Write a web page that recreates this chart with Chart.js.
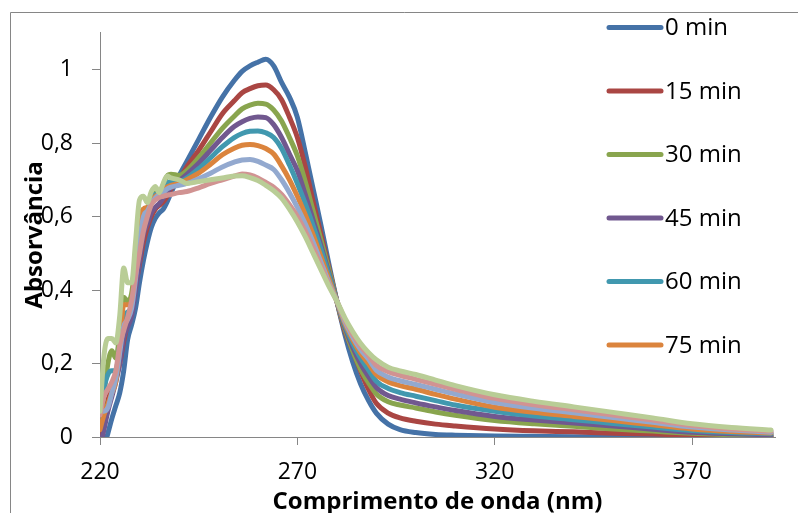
<!DOCTYPE html>
<html><head><meta charset="utf-8">
<script src="https://cdn.jsdelivr.net/npm/chart.js@4/dist/chart.umd.min.js"></script>
<style>html,body{margin:0;padding:0;background:#fff;}canvas{display:block}</style>
</head><body>
<canvas id="c" width="798" height="513"></canvas>
<script>
const wavelengths = [220,221,222,223,224,225,226,227,228,229,230,231,232,233,234,235,236,237,238,
  240,242,245,248,251,254,256,258,260,262,
  264,266,268,270,272,274,276,278,280,282,284,286,288,290,
  293,296,300,305,310,
  320,330,340,350,360,370,380,390];

const seriesLabels = ['0 min','15 min','30 min','45 min','60 min','75 min','90 min','105 min','120 min'];

const abs0 = [-0.06,-0.025,0.01,0.05,0.085,0.12,0.18,0.265,0.305,0.35,0.42,0.48,0.53,0.57,0.595,0.61,0.62,0.64,0.665,
  0.71,0.75,0.81,0.87,0.925,0.97,0.995,1.01,1.02,1.028,
  1.01,0.965,0.925,0.87,0.775,0.675,0.575,0.47,0.37,0.28,0.205,0.145,0.1,0.065,
  0.035,0.02,0.012,0.007,0.005,
  0.003,0.002,0.001,0.001,0.001,0.001,0,0];
const abs15 = [-0.02,0.04,0.1,0.13,0.16,0.2,0.26,0.31,0.35,0.41,0.47,0.53,0.57,0.6,0.62,0.63,0.64,0.655,0.675,
  0.70,0.735,0.78,0.83,0.88,0.915,0.937,0.948,0.956,0.958,
  0.945,0.918,0.87,0.815,0.735,0.64,0.55,0.46,0.37,0.29,0.235,0.18,0.13,0.092,
  0.065,0.052,0.043,0.035,0.03,
  0.022,0.017,0.014,0.01,0.008,0.005,0.004,0.002];
const abs30 = [0.03,0.12,0.2,0.235,0.215,0.28,0.38,0.37,0.39,0.48,0.59,0.62,0.62,0.65,0.665,0.665,0.685,0.71,0.715,
  0.712,0.725,0.76,0.80,0.84,0.873,0.893,0.903,0.908,0.906,
  0.89,0.86,0.815,0.765,0.695,0.615,0.535,0.455,0.37,0.295,0.235,0.185,0.148,0.117,
  0.096,0.087,0.079,0.068,0.059,
  0.045,0.036,0.029,0.022,0.016,0.01,0.006,0.004];
const abs45 = [-0.03,0.02,0.07,0.11,0.15,0.2,0.27,0.3,0.33,0.4,0.48,0.55,0.58,0.61,0.625,0.635,0.65,0.665,0.68,
  0.697,0.715,0.745,0.78,0.815,0.845,0.858,0.867,0.871,0.869,
  0.85,0.815,0.77,0.725,0.66,0.59,0.52,0.445,0.37,0.3,0.245,0.2,0.165,0.135,
  0.113,0.103,0.093,0.082,0.072,
  0.056,0.046,0.038,0.03,0.021,0.013,0.009,0.006];
const abs60 = [0.05,0.13,0.17,0.18,0.18,0.25,0.33,0.34,0.36,0.46,0.56,0.61,0.62,0.645,0.66,0.66,0.675,0.69,0.695,
  0.695,0.705,0.73,0.76,0.79,0.815,0.826,0.832,0.833,0.828,
  0.815,0.785,0.74,0.69,0.635,0.575,0.51,0.44,0.37,0.305,0.255,0.215,0.183,0.152,
  0.132,0.121,0.111,0.099,0.087,
  0.07,0.057,0.047,0.037,0.027,0.018,0.012,0.009];
const abs75 = [0.02,0.06,0.09,0.12,0.15,0.24,0.36,0.36,0.37,0.47,0.58,0.62,0.625,0.64,0.655,0.66,0.67,0.68,0.685,
  0.69,0.70,0.718,0.742,0.768,0.786,0.794,0.796,0.793,0.785,
  0.77,0.738,0.7,0.655,0.605,0.55,0.49,0.43,0.37,0.31,0.265,0.228,0.2,0.17,
  0.15,0.14,0.13,0.116,0.103,
  0.081,0.067,0.056,0.045,0.033,0.022,0.015,0.011];
const abs90 = [0.07,0.07,0.08,0.12,0.16,0.23,0.3,0.32,0.35,0.43,0.53,0.6,0.615,0.635,0.65,0.66,0.665,0.675,0.68,
  0.685,0.69,0.703,0.718,0.735,0.748,0.754,0.755,0.75,0.74,
  0.728,0.7,0.665,0.625,0.58,0.53,0.475,0.42,0.37,0.315,0.272,0.238,0.212,0.182,
  0.163,0.153,0.143,0.13,0.117,
  0.094,0.078,0.066,0.053,0.04,0.027,0.019,0.013];
const abs105 = [0.06,0.11,0.13,0.15,0.18,0.25,0.29,0.325,0.37,0.44,0.5,0.56,0.6,0.632,0.645,0.652,0.655,0.658,0.66,
  0.665,0.668,0.678,0.69,0.70,0.71,0.716,0.713,0.705,0.693,
  0.68,0.66,0.632,0.6,0.56,0.515,0.465,0.415,0.37,0.32,0.28,0.247,0.222,0.195,
  0.178,0.168,0.157,0.143,0.13,
  0.105,0.088,0.074,0.06,0.046,0.031,0.022,0.016];
const abs120 = [0.07,0.22,0.268,0.268,0.256,0.33,0.46,0.42,0.42,0.53,0.645,0.655,0.638,0.668,0.682,0.665,0.69,0.71,0.705,
  0.70,0.69,0.695,0.70,0.705,0.71,0.711,0.706,0.698,0.685,
  0.67,0.65,0.62,0.585,0.545,0.5,0.455,0.41,0.37,0.325,0.287,0.255,0.23,0.21,
  0.19,0.18,0.17,0.155,0.14,
  0.115,0.097,0.082,0.067,0.052,0.036,0.026,0.019];

const seriesValues = [abs0, abs15, abs30, abs45, abs60, abs75, abs90, abs105, abs120];
const xTicks = [220, 270, 320, 370];
const yTicks = [0, 0.2, 0.4, 0.6, 0.8, 1];
const legendCount = 6;

const palette = ['#4572A7','#AA4643','#89A54E','#71588F','#4198AF','#DB843D','#93A9CF','#D19392','#B9CD96'];
const FONT = '"Open Sans", sans-serif';

const datasets = seriesValues.map((vals, i) => ({
  label: seriesLabels[i],
  data: wavelengths.map((w, k) => ({x: w, y: vals[k]})),
  borderColor: palette[i],
  backgroundColor: palette[i],
  order: seriesValues.length - i
}));

const framePlugin = {
  id: 'frame',
  beforeDraw(chart) {
    const ctx = chart.ctx;
    ctx.save();
    ctx.strokeStyle = '#868686';
    ctx.lineWidth = 1;
    ctx.beginPath();
    ctx.moveTo(10.5, chart.height);
    ctx.lineTo(10.5, 12.5);
    ctx.lineTo(chart.width, 12.5);
    ctx.stroke();
    ctx.restore();
  }
};

const sideLegend = {
  id: 'sideLegend',
  afterDraw(chart) {
    const ctx = chart.ctx;
    ctx.save();
    ctx.font = '24px ' + FONT;
    ctx.textBaseline = 'middle';
    ctx.textAlign = 'left';
    for (let i = 0; i < legendCount; i++) {
      const ds = chart.data.datasets[i];
      const y = 27.5 + i * 63.5;
      ctx.strokeStyle = ds.borderColor;
      ctx.lineWidth = 5;
      ctx.lineCap = 'round';
      ctx.beginPath();
      ctx.moveTo(609, y);
      ctx.lineTo(661, y);
      ctx.stroke();
      ctx.fillStyle = '#000';
      ctx.fillText(ds.label, 665, y + 1);
    }
    ctx.restore();
  }
};

new Chart(document.getElementById('c'), {
  type: 'line',
  data: { datasets },
  plugins: [framePlugin, sideLegend],
  options: {
    responsive: false,
    animation: false,
    devicePixelRatio: 1,
    layout: { padding: { left: 10, right: 23, top: 29, bottom: 0 } },
    plugins: { legend: { display: false }, tooltip: { enabled: false } },
    elements: {
      point: { radius: 0 },
      line: { borderWidth: 5, cubicInterpolationMode: 'monotone', borderCapStyle: 'round', borderJoinStyle: 'round' }
    },
    scales: {
      x: {
        type: 'linear', min: 220, max: 391,
        afterBuildTicks: s => { s.ticks = xTicks.map(v => ({ value: v })); },
        afterFit: s => { s.height = 76; },
        grid: { drawOnChartArea: false, drawTicks: true, tickLength: 8, color: '#868686' },
        border: { display: true, color: '#868686', width: 1 },
        ticks: { font: { family: FONT, size: 23 }, color: '#000', padding: 14, maxRotation: 0, autoSkip: false },
        title: { display: true, text: 'Comprimento de onda (nm)', color: '#000',
                 font: { family: FONT, size: 24, weight: 'bold', lineHeight: 1 }, padding: { top: 0, bottom: -1 } }
      },
      y: {
        type: 'linear', min: 0, max: 1.1,
        afterBuildTicks: s => { s.ticks = yTicks.map(v => ({ value: v })); },
        afterFit: s => { s.width = 90; },
        grid: { drawOnChartArea: false, drawTicks: true, tickLength: 8, color: '#868686' },
        border: { display: true, color: '#868686', width: 1 },
        ticks: { font: { family: FONT, size: 23 }, color: '#000', padding: 19,
                 callback: v => String(v).replace('.', ',') },
        title: { display: true, text: 'Absorvância', color: '#000',
                 font: { family: FONT, size: 24, weight: 'bold', lineHeight: 1 }, padding: { top: 13, bottom: 0 } }
      }
    }
  }
});
</script>
</body></html>
